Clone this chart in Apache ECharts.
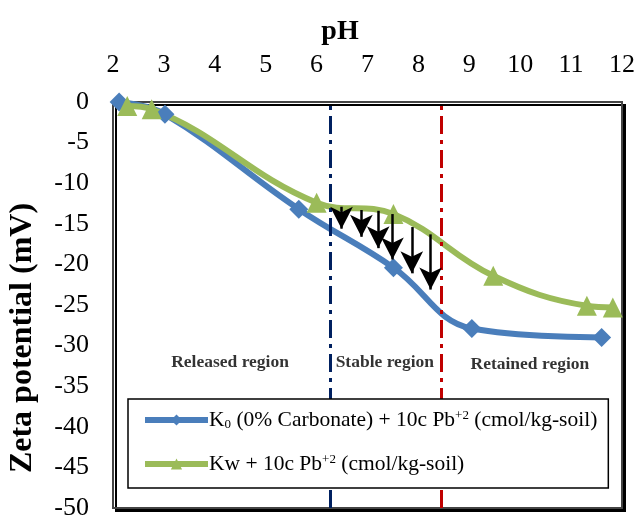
<!DOCTYPE html>
<html lang="en">
<head>
    <meta charset="UTF-8">
    <title>Zeta potential vs pH</title>
    <script src="https://cdn.jsdelivr.net/npm/echarts@6/dist/echarts.min.js"></script>
</head>
<body style="margin:0;">
    <div id="main" style="width: 639px;height: 521px;"></div>
<script>
    // values: [pH, zeta potential (mV)]
    var k0Points = [[2.12, 0], [3.02, -1.5], [5.65, -13.2], [7.51, -20.4], [9.05, -27.9], [11.6, -29]];
    var kwPoints = [[2.28, -0.5], [2.76, -0.9], [6.0, -12.4], [7.51, -13.8], [9.47, -21.4], [11.31, -25.1], [11.82, -25.3]];
    var seriesNames = ['K0 (0% Carbonate) + 10c Pb+2 (cmol/kg-soil)', 'Kw + 10c Pb+2 (cmol/kg-soil)'];

    // arrows between the two curves in the stable region
    var arrowX = [6.49, 6.88, 7.21, 7.49, 7.87, 8.24];
    var arrowTop = [-12.9, -13.3, -13.4, -13.8, -15.4, -16.3];
    var arrowTip = [-15.6, -16.6, -18.0, -19.4, -21.1, -23.1];

    // region boundaries (pH) and labels
    var boundaryPH = [6.27, 8.44];
    var boundaryColors = ['#002060', '#c00000'];
    var regionNames = ['Released region', 'Stable region', 'Retained region'];
    var regionX = [4.3, 7.34, 10.19];
    var regionY = [-32.1, -32.1, -32.3];

    var serif = 'Liberation Serif';

    var myChart = echarts.init(document.getElementById('main'));

    var arrowLines = arrowX.map(function (x, i) {
        return [
            { coord: [x, arrowTop[i]], symbol: 'none' },
            { coord: [x, arrowTip[i]], symbol: 'arrow' }
        ];
    });
    var boundaryLines = boundaryPH.map(function (x, i) {
        return { xAxis: x, lineStyle: { color: boundaryColors[i] } };
    });
    var regionData = regionNames.map(function (n, i) {
        return { value: [regionX[i], regionY[i]], name: n };
    });

    myChart.setOption({
        animation: false,
        grid: {
            left: 113, top: 102, right: 17, bottom: 13,
            show: true,
            backgroundColor: '#fff',
            borderColor: '#444',
            borderWidth: 2,
            shadowColor: '#000',
            shadowOffsetX: 3,
            shadowOffsetY: 3,
            shadowBlur: 0
        },
        xAxis: {
            type: 'value',
            position: 'top',
            min: 2, max: 12, interval: 1,
            axisLine: { show: false },
            axisTick: { show: false },
            splitLine: { show: false },
            axisLabel: { color: '#000', fontFamily: serif, fontSize: 26, margin: 24 }
        },
        yAxis: {
            type: 'value',
            min: -50, max: 0, interval: 5,
            axisLine: { show: false },
            axisTick: { show: false },
            splitLine: { show: false },
            axisLabel: { color: '#000', fontFamily: serif, fontSize: 26, margin: 24 }
        },
        legend: {
            data: seriesNames,
            orient: 'vertical',
            left: 128,
            top: 399,
            z: 20,
            padding: [10, 11, 13, 14],
            itemGap: 22,
            itemWidth: 63,
            itemHeight: 14,
            backgroundColor: '#fff',
            borderColor: '#000',
            borderWidth: 1.5,
            lineStyle: { width: 6 },
            formatter: function (name) {
                if (name === seriesNames[0]) {
                    return 'K{sub|0} (0% Carbonate) + 10c Pb{sup|+2} (cmol/kg-soil)';
                }
                return 'Kw + 10c Pb{sup|+2} (cmol/kg-soil)';
            },
            textStyle: {
                color: '#000', fontFamily: serif, fontSize: 21.5, padding: [0, 0, 0, -4],
                rich: {
                    sub: { fontFamily: serif, fontSize: 13, color: '#000', verticalAlign: 'bottom' },
                    sup: { fontFamily: serif, fontSize: 13, color: '#000', verticalAlign: 'top' }
                }
            }
        },
        graphic: [
            {
                type: 'text', x: 340, y: 32,
                style: { text: 'pH', font: 'bold 28px "Liberation Serif"', fill: '#000', align: 'center', verticalAlign: 'middle' }
            },
            {
                type: 'text', x: 23, y: 338, rotation: Math.PI / 2,
                style: { text: 'Zeta potential (mV)', font: 'bold 32px "Liberation Serif"', fill: '#000', align: 'center', verticalAlign: 'middle' }
            }
        ],
        series: [
            {
                name: 'boundaries',
                type: 'scatter',
                data: [],
                silent: true,
                markLine: {
                    silent: true,
                    symbol: 'none',
                    label: { show: false },
                    lineStyle: { width: 3, type: [18, 6, 4, 6] },
                    data: boundaryLines
                }
            },
            {
                name: seriesNames[0],
                type: 'line',
                data: k0Points,
                smooth: 0.4,
                symbol: 'diamond',
                symbolSize: 19,
                color: '#4a7ebb',
                lineStyle: { width: 6, color: '#4a7ebb' },
                itemStyle: { color: '#4a7ebb' }
            },
            {
                name: seriesNames[1],
                type: 'line',
                data: kwPoints,
                smooth: 0.4,
                symbol: 'triangle',
                symbolSize: 20,
                color: '#9bbb59',
                lineStyle: { width: 6, color: '#9bbb59' },
                itemStyle: { color: '#9bbb59' }
            },
            {
                name: 'arrows',
                type: 'scatter',
                data: [],
                silent: true,
                z: 5,
                markLine: {
                    silent: true,
                    symbolSize: [17, 22],
                    label: { show: false },
                    lineStyle: { color: '#000', width: 2.5, type: 'solid' },
                    itemStyle: { color: '#000' },
                    data: arrowLines
                }
            },
            {
                name: 'regions',
                type: 'scatter',
                data: regionData,
                symbolSize: 0,
                silent: true,
                label: {
                    show: true,
                    position: 'inside',
                    formatter: '{b}',
                    color: '#000',
                    fontFamily: serif,
                    fontWeight: 'bold',
                    fontSize: 17.5
                }
            }
        ]
    });
</script>
</body>
</html>
